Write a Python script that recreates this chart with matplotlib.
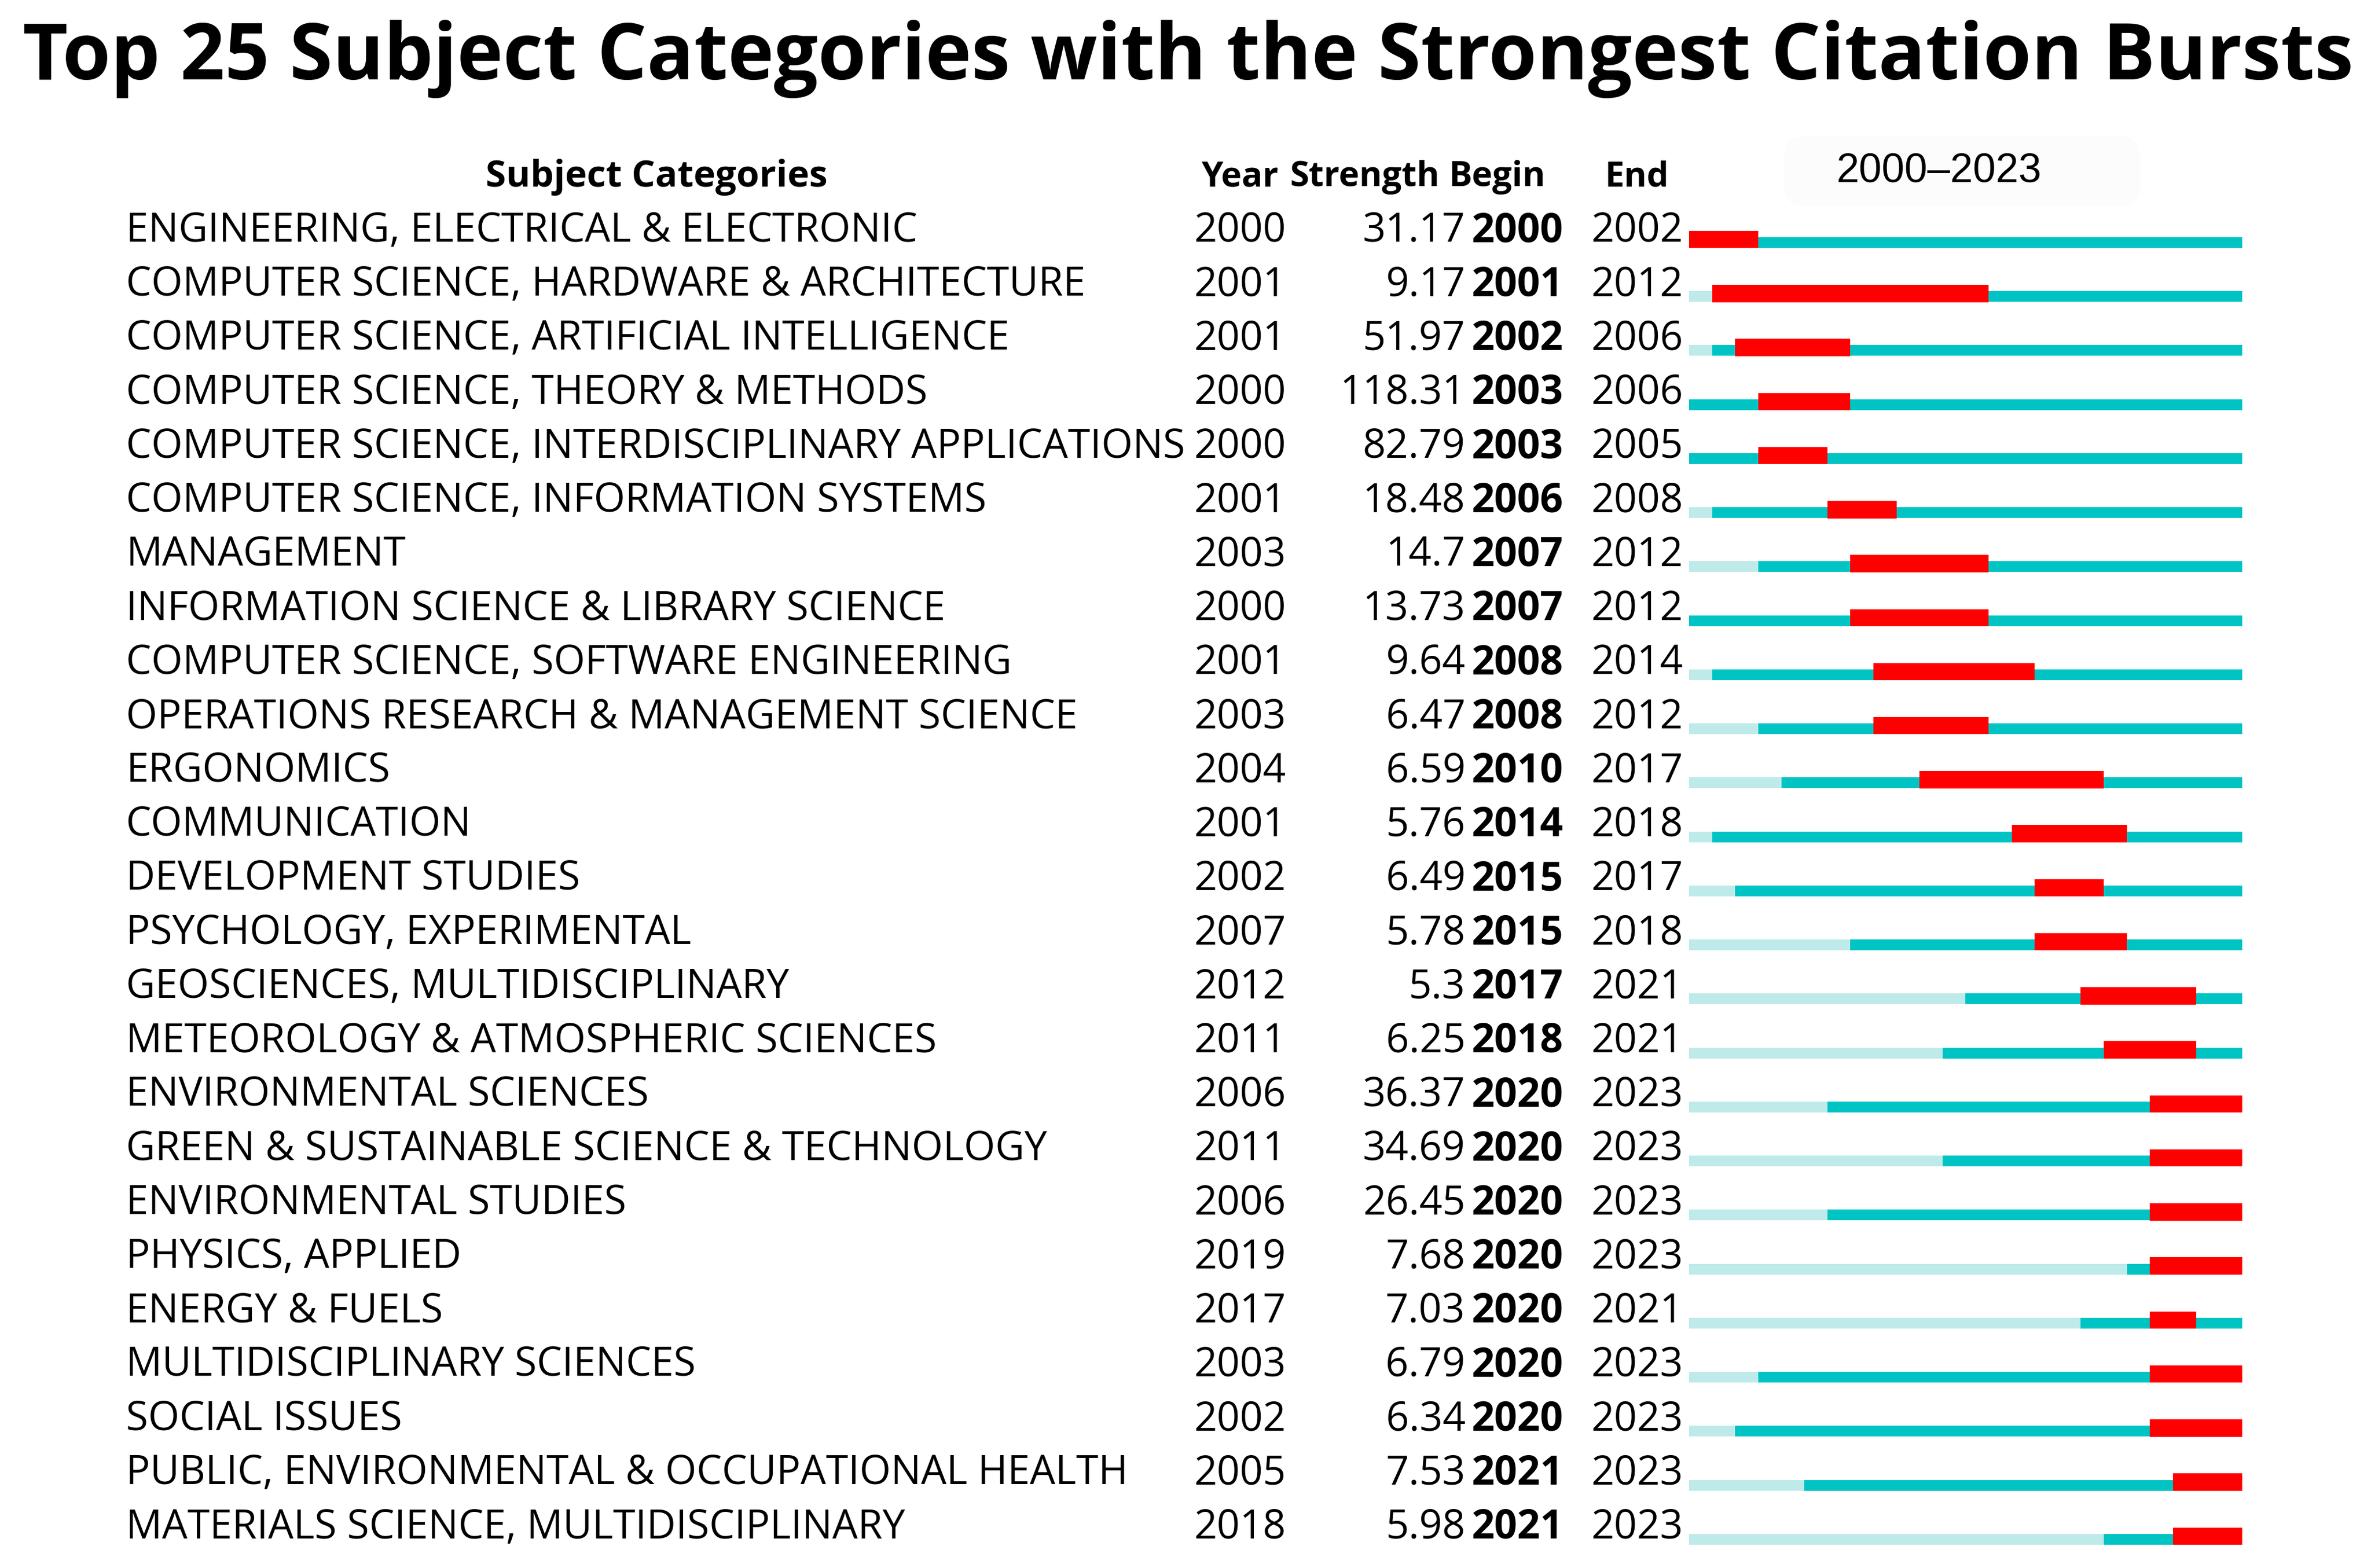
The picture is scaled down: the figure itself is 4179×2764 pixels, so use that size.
import matplotlib
matplotlib.use('Agg')
import matplotlib.pyplot as plt
from matplotlib.patches import FancyBboxPatch

# dane
categories = [
    'ENGINEERING, ELECTRICAL & ELECTRONIC',
    'COMPUTER SCIENCE, HARDWARE & ARCHITECTURE',
    'COMPUTER SCIENCE, ARTIFICIAL INTELLIGENCE',
    'COMPUTER SCIENCE, THEORY & METHODS',
    'COMPUTER SCIENCE, INTERDISCIPLINARY APPLICATIONS',
    'COMPUTER SCIENCE, INFORMATION SYSTEMS',
    'MANAGEMENT',
    'INFORMATION SCIENCE & LIBRARY SCIENCE',
    'COMPUTER SCIENCE, SOFTWARE ENGINEERING',
    'OPERATIONS RESEARCH & MANAGEMENT SCIENCE',
    'ERGONOMICS',
    'COMMUNICATION',
    'DEVELOPMENT STUDIES',
    'PSYCHOLOGY, EXPERIMENTAL',
    'GEOSCIENCES, MULTIDISCIPLINARY',
    'METEOROLOGY & ATMOSPHERIC SCIENCES',
    'ENVIRONMENTAL SCIENCES',
    'GREEN & SUSTAINABLE SCIENCE & TECHNOLOGY',
    'ENVIRONMENTAL STUDIES',
    'PHYSICS, APPLIED',
    'ENERGY & FUELS',
    'MULTIDISCIPLINARY SCIENCES',
    'SOCIAL ISSUES',
    'PUBLIC, ENVIRONMENTAL & OCCUPATIONAL HEALTH',
    'MATERIALS SCIENCE, MULTIDISCIPLINARY',
]
years = [2000, 2001, 2001, 2000, 2000, 2001, 2003, 2000, 2001, 2003, 2004, 2001, 2002,
         2007, 2012, 2011, 2006, 2011, 2006, 2019, 2017, 2003, 2002, 2005, 2018]
strength = ['31.17', '9.17', '51.97', '118.31', '82.79', '18.48', '14.7', '13.73', '9.64',
            '6.47', '6.59', '5.76', '6.49', '5.78', '5.3', '6.25', '36.37', '34.69', '26.45',
            '7.68', '7.03', '6.79', '6.34', '7.53', '5.98']
begin = [2000, 2001, 2002, 2003, 2003, 2006, 2007, 2007, 2008, 2008, 2010, 2014, 2015,
         2015, 2017, 2018, 2020, 2020, 2020, 2020, 2020, 2020, 2020, 2021, 2021]
end = [2002, 2012, 2006, 2006, 2005, 2008, 2012, 2012, 2014, 2012, 2017, 2018, 2017,
       2018, 2021, 2021, 2023, 2023, 2023, 2023, 2021, 2023, 2023, 2023, 2023]
first_year = 2000
last_year = 2023

LIGHT = '#bfeaea'
TEAL = '#00c4c4'
RED = '#ff0000'
FONT = 'Open Sans'


def main() -> None:
    fig = plt.figure(figsize=(41.79, 27.64), dpi=100)
    ax = fig.add_axes([0, 0, 1, 1])
    ax.set_xlim(0, 1563)
    ax.set_ylim(1034, 0)
    ax.axis('off')

    ax.text(783, 39, 'Top 25 Subject Categories with the Strongest Citation Bursts',
            ha='center', va='center', fontsize=99, fontweight='bold', family=FONT)

    hy = 117
    hs = 44
    ax.text(433, hy, 'Subject Categories', ha='center', va='center', fontsize=47,
            fontweight='bold', family=FONT)
    ax.text(792, hy, 'Year', ha='left', va='center', fontsize=hs, fontweight='bold', family=FONT)
    ax.text(949, hy, 'Strength', ha='right', va='center', fontsize=hs, fontweight='bold', family=FONT)
    ax.text(955, hy, 'Begin', ha='left', va='center', fontsize=hs, fontweight='bold', family=FONT)
    ax.text(1058, hy, 'End', ha='left', va='center', fontsize=hs, fontweight='bold', family=FONT)

    # jasne tło pod zakresem lat
    ax.add_patch(FancyBboxPatch((1176, 90), 235, 46, boxstyle='round,pad=0,rounding_size=14',
                                facecolor='#fcfcfc', edgecolor='none'))
    ax.text(1278, 113, f'{first_year}\u2013{last_year}', ha='center', va='center',
            fontsize=52, family='Liberation Sans')

    y0 = 150.3
    dy = 35.63
    fs = 51
    for i, name in enumerate(categories):
        y = y0 + 2 + i * dy
        ax.text(83, y, name, ha='left', va='center', fontsize=fs, family=FONT)
        ax.text(787, y, str(years[i]), ha='left', va='center', fontsize=fs, family=FONT)
        ax.text(966, y, strength[i], ha='right', va='center', fontsize=fs, family=FONT)
        ax.text(970, y, str(begin[i]), ha='left', va='center', fontsize=fs,
                fontweight='bold', family=FONT)
        ax.text(1049, y, str(end[i]), ha='left', va='center', fontsize=fs, family=FONT)

    # paski
    bx0, bx1 = 1113.5, 1478
    bax = fig.add_axes([bx0 / 1563, 0, (bx1 - bx0) / 1563, 1])
    bax.set_xlim(first_year, last_year + 1)
    bax.set_ylim((1034 - y0) / dy, -y0 / dy)
    bax.axis('off')
    n = len(categories)
    for i in range(n):
        bax.barh(i + 0.27, years[i] - first_year, left=first_year, height=0.2,
                 color=LIGHT, linewidth=0)
        bax.barh(i + 0.27, last_year + 1 - years[i], left=years[i], height=0.2,
                 color=TEAL, linewidth=0)
        bax.barh(i + 0.213, end[i] + 1 - begin[i], left=begin[i], height=0.32,
                 color=RED, linewidth=0)

    fig.savefig('out.png', dpi=100, facecolor='white')


if __name__ == "__main__":
    main()
